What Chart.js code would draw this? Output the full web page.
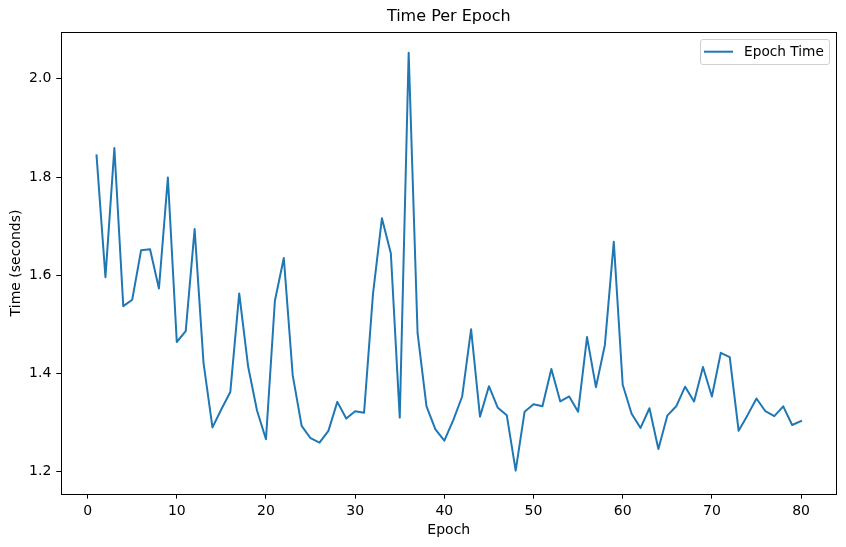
<!DOCTYPE html>
<html>
<head>
<meta charset="utf-8">
<title>Time Per Epoch</title>
<script src="https://cdn.jsdelivr.net/npm/chart.js@4.4.1/dist/chart.umd.min.js"></script>
<style>
  html, body { margin: 0; padding: 0; background: #fff; }
  .chart-container { position: relative; width: 846px; height: 547px; }
</style>
</head>
<body>
<div class="chart-container">
  <canvas id="epochChart"></canvas>
</div>
<script>
// --- data ---
const epochs = [
  1, 2, 3, 4, 5, 6, 7, 8, 9, 10,
  11, 12, 13, 14, 15, 16, 17, 18, 19, 20,
  21, 22, 23, 24, 25, 26, 27, 28, 29, 30,
  31, 32, 33, 34, 35, 36, 37, 38, 39, 40,
  41, 42, 43, 44, 45, 46, 47, 48, 49, 50,
  51, 52, 53, 54, 55, 56, 57, 58, 59, 60,
  61, 62, 63, 64, 65, 66, 67, 68, 69, 70,
  71, 72, 73, 74, 75, 76, 77, 78, 79, 80
];

const epochTimes = [
  1.844, 1.596, 1.859, 1.537, 1.550, 1.651, 1.653, 1.573, 1.799, 1.464,
  1.486, 1.694, 1.421, 1.290, 1.327, 1.362, 1.563, 1.414, 1.324, 1.266,
  1.548, 1.635, 1.396, 1.293, 1.268, 1.259, 1.283, 1.342, 1.308, 1.323,
  1.320, 1.562, 1.716, 1.645, 1.310, 2.053, 1.482, 1.333, 1.286, 1.263,
  1.305, 1.353, 1.490, 1.312, 1.374, 1.330, 1.315, 1.202, 1.322, 1.337,
  1.333, 1.409, 1.343, 1.353, 1.322, 1.474, 1.372, 1.458, 1.668, 1.377,
  1.318, 1.289, 1.329, 1.246, 1.314, 1.333, 1.373, 1.343, 1.413, 1.353,
  1.442, 1.433, 1.283, 1.315, 1.349, 1.323, 1.313, 1.333, 1.295, 1.303
];

const xTicks = [0, 10, 20, 30, 40, 50, 60, 70, 80];
const yTicks = [1.2, 1.4, 1.6, 1.8, 2.0];

const seriesLabel = 'Epoch Time';
const lineColor = '#1f77b4';
const FONT = '"DejaVu Sans", sans-serif';

// matplotlib-style 5% margins around the data
const xMin = -2.95, xMax = 83.95;
const yMin = 1.155, yMax = 2.095;

// 四邊框 + 右上角的圖例框
const frameAndLegend = {
  id: 'frameAndLegend',
  afterDraw(chart) {
    const { ctx, chartArea } = chart;
    ctx.save();
    ctx.strokeStyle = '#000';
    ctx.lineWidth = 1;
    ctx.strokeRect(Math.round(chartArea.left) + 0.5, Math.round(chartArea.top) + 0.5,
      Math.round(chartArea.right - chartArea.left), Math.round(chartArea.bottom - chartArea.top));

    // legend
    ctx.font = '13.7px ' + FONT;
    const textW = ctx.measureText(seriesLabel).width;
    const boxW = 4 + 29 + 11 + textW + 5;
    const boxH = 25;
    const boxX = chartArea.right - 7.5 - boxW;
    const boxY = chartArea.top + 7;
    ctx.beginPath();
    ctx.roundRect(Math.round(boxX) + 0.5, Math.round(boxY) + 0.5, Math.round(boxW), boxH, 2.5);
    ctx.fillStyle = 'rgba(255,255,255,0.8)';
    ctx.fill();
    ctx.strokeStyle = '#d0d0d0';
    ctx.stroke();

    const midY = boxY + 12.5;
    ctx.beginPath();
    ctx.moveTo(boxX + 4, midY);
    ctx.lineTo(boxX + 33, midY);
    ctx.strokeStyle = lineColor;
    ctx.lineWidth = 2;
    ctx.stroke();

    ctx.fillStyle = '#000';
    ctx.textBaseline = 'middle';
    ctx.textAlign = 'left';
    ctx.fillText(seriesLabel, boxX + 44, midY + 0.5);
    ctx.restore();
  }
};

const ctx = document.getElementById('epochChart').getContext('2d');

new Chart(ctx, {
  type: 'line',
  data: {
    datasets: [{
      label: seriesLabel,
      data: epochs.map((e, i) => ({ x: e, y: epochTimes[i] })),
      borderColor: lineColor,
      backgroundColor: lineColor,
      borderWidth: 2,
      borderJoinStyle: 'round',
      borderCapStyle: 'square',
      pointRadius: 0,
      tension: 0,
      fill: false
    }]
  },
  options: {
    responsive: true,
    maintainAspectRatio: false,
    animation: false,
    layout: { padding: { top: 0, right: 9.7, bottom: 0, left: 0 } },
    plugins: {
      legend: { display: false },
      tooltip: { enabled: false },
      title: {
        display: true,
        text: 'Time Per Epoch',
        fullSize: false,
        color: '#000',
        font: { family: FONT, size: 16, weight: 'normal' },
        padding: { top: 7, bottom: 6 }
      }
    },
    scales: {
      x: {
        type: 'linear',
        min: xMin,
        max: xMax,
        afterBuildTicks: (scale) => { scale.ticks = xTicks.map(v => ({ value: v })); },
        afterFit: (scale) => { scale.height = 53.3; },
        ticks: {
          color: '#000',
          font: { family: FONT, size: 14 },
          padding: 4,
          maxRotation: 0,
          callback: (v) => String(v)
        },
        grid: {
          display: true,
          drawOnChartArea: false,
          drawTicks: true,
          tickLength: 5,
          color: '#000'
        },
        border: { display: false },
        title: {
          display: true,
          text: 'Epoch',
          color: '#000',
          font: { family: FONT, size: 14 },
          padding: { top: 0, bottom: 8.5 }
        }
      },
      y: {
        type: 'linear',
        min: yMin,
        max: yMax,
        afterBuildTicks: (scale) => { scale.ticks = yTicks.map(v => ({ value: v })); },
        afterFit: (scale) => { scale.width = 61.3; },
        ticks: {
          color: '#000',
          font: { family: FONT, size: 14 },
          padding: 5,
          callback: (v) => Number(v).toFixed(1)
        },
        grid: {
          display: true,
          drawOnChartArea: false,
          drawTicks: true,
          tickLength: 5,
          color: '#000'
        },
        border: { display: false },
        title: {
          display: true,
          text: 'Time (seconds)',
          color: '#000',
          font: { family: FONT, size: 14 },
          padding: { top: 7.5, bottom: 0 }
        }
      }
    }
  },
  plugins: [frameAndLegend]
});
</script>
</body>
</html>
